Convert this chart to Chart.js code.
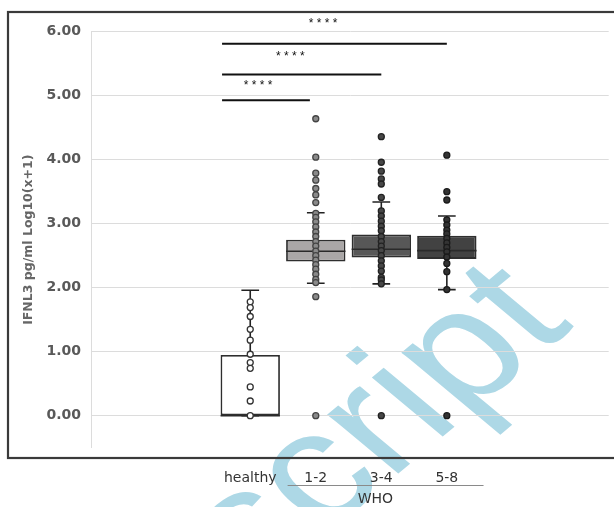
<!DOCTYPE html>
<html>
<head>
<meta charset="utf-8">
<script src="https://cdn.jsdelivr.net/npm/chart.js@4.4.1/dist/chart.umd.min.js"></script>
<style>
  html, body { margin: 0; padding: 0; background: #fff; }
</style>
</head>
<body>
<canvas id="chart" width="614" height="507"></canvas>
<script>
// groups on the x axis (positions 1..4)
const groups = ['healthy', '1-2', '3-4', '5-8'];
const yTicks = [0, 1, 2, 3, 4, 5, 6];

// box summaries
const q1 = [0, 2.41, 2.47, 2.45];
const median = [0, 2.57, 2.60, 2.58];
const q3 = [0.95, 2.75, 2.83, 2.81];
const whiskerLow = [0, 2.07, 2.06, 1.97];
const whiskerHigh = [1.96, 3.17, 3.34, 3.12];

// individual values
const healthyPts = [1.78, 1.69, 1.55, 1.35, 1.18, 0.96, 0.83, 0.74, 0.45, 0.23, 0];
const who12Pts = [4.64, 4.04, 3.79, 3.68, 3.55, 3.45, 3.33, 3.16, 3.10, 3.03, 2.95, 2.87, 2.80, 2.72,
                  2.65, 2.57, 2.50, 2.43, 2.36, 2.29, 2.21, 2.13, 2.08, 1.86, 0];
const who34Pts = [4.36, 3.96, 3.82, 3.70, 3.62, 3.41, 3.20, 3.12, 3.04, 2.96, 2.89, 2.80, 2.72, 2.65,
                  2.58, 2.50, 2.42, 2.34, 2.26, 2.16, 2.12, 2.06, 0];
const who58Pts = [4.07, 3.50, 3.37, 3.06, 2.98, 2.90, 2.84, 2.77, 2.70, 2.63, 2.56, 2.48, 2.38, 2.25, 1.97, 0];
const allPts = [healthyPts, who12Pts, who34Pts, who58Pts];

// significance brackets
const sigFrom = [0.57, 0.57, 0.57];
const sigTo = [1.91, 3.0, 4.0];
const sigY = [4.93, 5.33, 5.81];
const sigLabel = ['****', '****', '****'];
const starX = [1.12, 1.61, 2.11];
const starY = [5.18, 5.64, 6.15];

// colours
const boxFill = ['#ffffff', '#aaa7a7', '#575757', '#424242'];
const ptFill = ['#ffffff', '#8a8a8a', '#474747', '#333333'];
const ptEdge = ['#333333', '#444444', '#222222', '#1a1a1a'];

const halfBox = 0.453;
const halfCap = 0.135;

function seg(x1, y1, x2, y2, color, width, order) {
  return {
    type: 'scatter',
    data: [{x: x1, y: y1}, {x: x2, y: y2}],
    showLine: true,
    borderColor: color,
    borderWidth: width,
    pointRadius: 0,
    order: order
  };
}

const datasets = [];

// whiskers and caps
groups.forEach((g, i) => {
  const x = i + 1;
  datasets.push(seg(x, whiskerLow[i], x, whiskerHigh[i], '#222', 1.6, 6));
  datasets.push(seg(x - halfCap, whiskerHigh[i], x + halfCap, whiskerHigh[i], '#222', 1.6, 6));
  datasets.push(seg(x - halfCap, whiskerLow[i], x + halfCap, whiskerLow[i], '#222', 1.6, 6));
});

// boxes
datasets.push({
  type: 'bar',
  data: groups.map((g, i) => ({x: i + 1, y: [q1[i], q3[i]]})),
  backgroundColor: boxFill,
  borderColor: '#2e2e2e',
  borderWidth: 1.8,
  borderSkipped: false,
  barPercentage: 0.906,
  categoryPercentage: 1,
  order: 5
});

// medians
groups.forEach((g, i) => {
  datasets.push(seg(i + 1 - halfBox, median[i], i + 1 + halfBox, median[i], '#2a2a2a', 1.6, 4));
});

// significance lines
sigY.forEach((v, i) => {
  datasets.push(seg(sigFrom[i], v, sigTo[i], v, '#111', 2, 3));
});

// points
allPts.forEach((pts, i) => {
  datasets.push({
    type: 'scatter',
    data: pts.map(v => ({x: i + 1, y: v})),
    pointRadius: 3,
    pointBorderWidth: 1.3,
    pointBackgroundColor: ptFill[i],
    pointBorderColor: ptEdge[i],
    order: 1
  });
});

const extras = {
  id: 'extras',
  beforeDraw(chart) {
    // light blue watermark behind everything (page is stretched sideways)
    const ctx = chart.ctx;
    ctx.save();
    ctx.translate(322, 537);
    ctx.scale(1.2, 1);
    ctx.rotate(-Math.PI / 4);
    ctx.font = '158px "Liberation Sans"';
    ctx.fillStyle = '#add8e6';
    ctx.textBaseline = 'alphabetic';
    ctx.textAlign = 'left';
    ctx.fillText('cript', 0, 0);
    ctx.textAlign = 'right';
    ctx.fillText('Manus', 0, 0);
    ctx.restore();
  },
  afterDraw(chart) {
    const ctx = chart.ctx;
    const xs = chart.scales.x, ys = chart.scales.y;
    ctx.save();
    // outer frame
    ctx.strokeStyle = '#3a3a3a';
    ctx.lineWidth = 2.2;
    ctx.strokeRect(8, 12, 640, 446);
    // stars
    ctx.fillStyle = '#111';
    ctx.font = '12px "Liberation Sans"';
    ctx.textAlign = 'center';
    ctx.textBaseline = 'middle';
    starX.forEach((v, i) => {
      ctx.fillText(sigLabel[i].split('').join(' '), xs.getPixelForValue(v), ys.getPixelForValue(starY[i]) + 2);
    });
    // WHO grouping line and label
    ctx.strokeStyle = '#8a8a8a';
    ctx.lineWidth = 1;
    ctx.beginPath();
    ctx.moveTo(xs.getPixelForValue(1.57), 485.5);
    ctx.lineTo(xs.getPixelForValue(4.56), 485.5);
    ctx.stroke();
    ctx.fillStyle = '#333';
    ctx.font = '14px "DejaVu Sans"';
    ctx.fillText('WHO', xs.getPixelForValue(2.91), 499);
    ctx.restore();
  }
};

new Chart(document.getElementById('chart'), {
  type: 'bar',
  data: {datasets: datasets},
  plugins: [extras],
  options: {
    responsive: false,
    animation: false,
    layout: {padding: {top: 31.7, left: 0, right: 0, bottom: 0}},
    plugins: {legend: {display: false}, tooltip: {enabled: false}},
    scales: {
      x: {
        type: 'linear',
        offset: false,
        min: -1.43,
        max: 6.47,
        afterBuildTicks: axis => { axis.ticks = groups.map((g, i) => ({value: i + 1})); },
        afterFit: scale => { scale.height = 59.3; },
        grid: {display: false, drawTicks: false, offset: false},
        border: {display: false},
        ticks: {
          callback: v => groups[v - 1],
          padding: 22,
          color: '#333',
          font: {family: 'DejaVu Sans', size: 14},
          maxRotation: 0,
          autoSkip: false
        }
      },
      y: {
        min: -0.5,
        max: 6,
        afterBuildTicks: axis => { axis.ticks = yTicks.map(v => ({value: v})); },
        afterFit: scale => { scale.width = 91; },
        grid: {color: '#dcdcdc', drawTicks: false},
        border: {color: '#dcdcdc'},
        ticks: {
          callback: v => v.toFixed(2),
          padding: 10,
          color: '#595959',
          font: {family: 'DejaVu Sans', size: 14, weight: 'bold'}
        },
        title: {
          display: true,
          text: 'IFNL3 pg/ml Log10(x+1)',
          color: '#666',
          font: {family: 'DejaVu Sans', size: 12.5, weight: 'bold'},
          padding: {top: 21, bottom: 0}
        }
      }
    }
  }
});
</script>
</body>
</html>
